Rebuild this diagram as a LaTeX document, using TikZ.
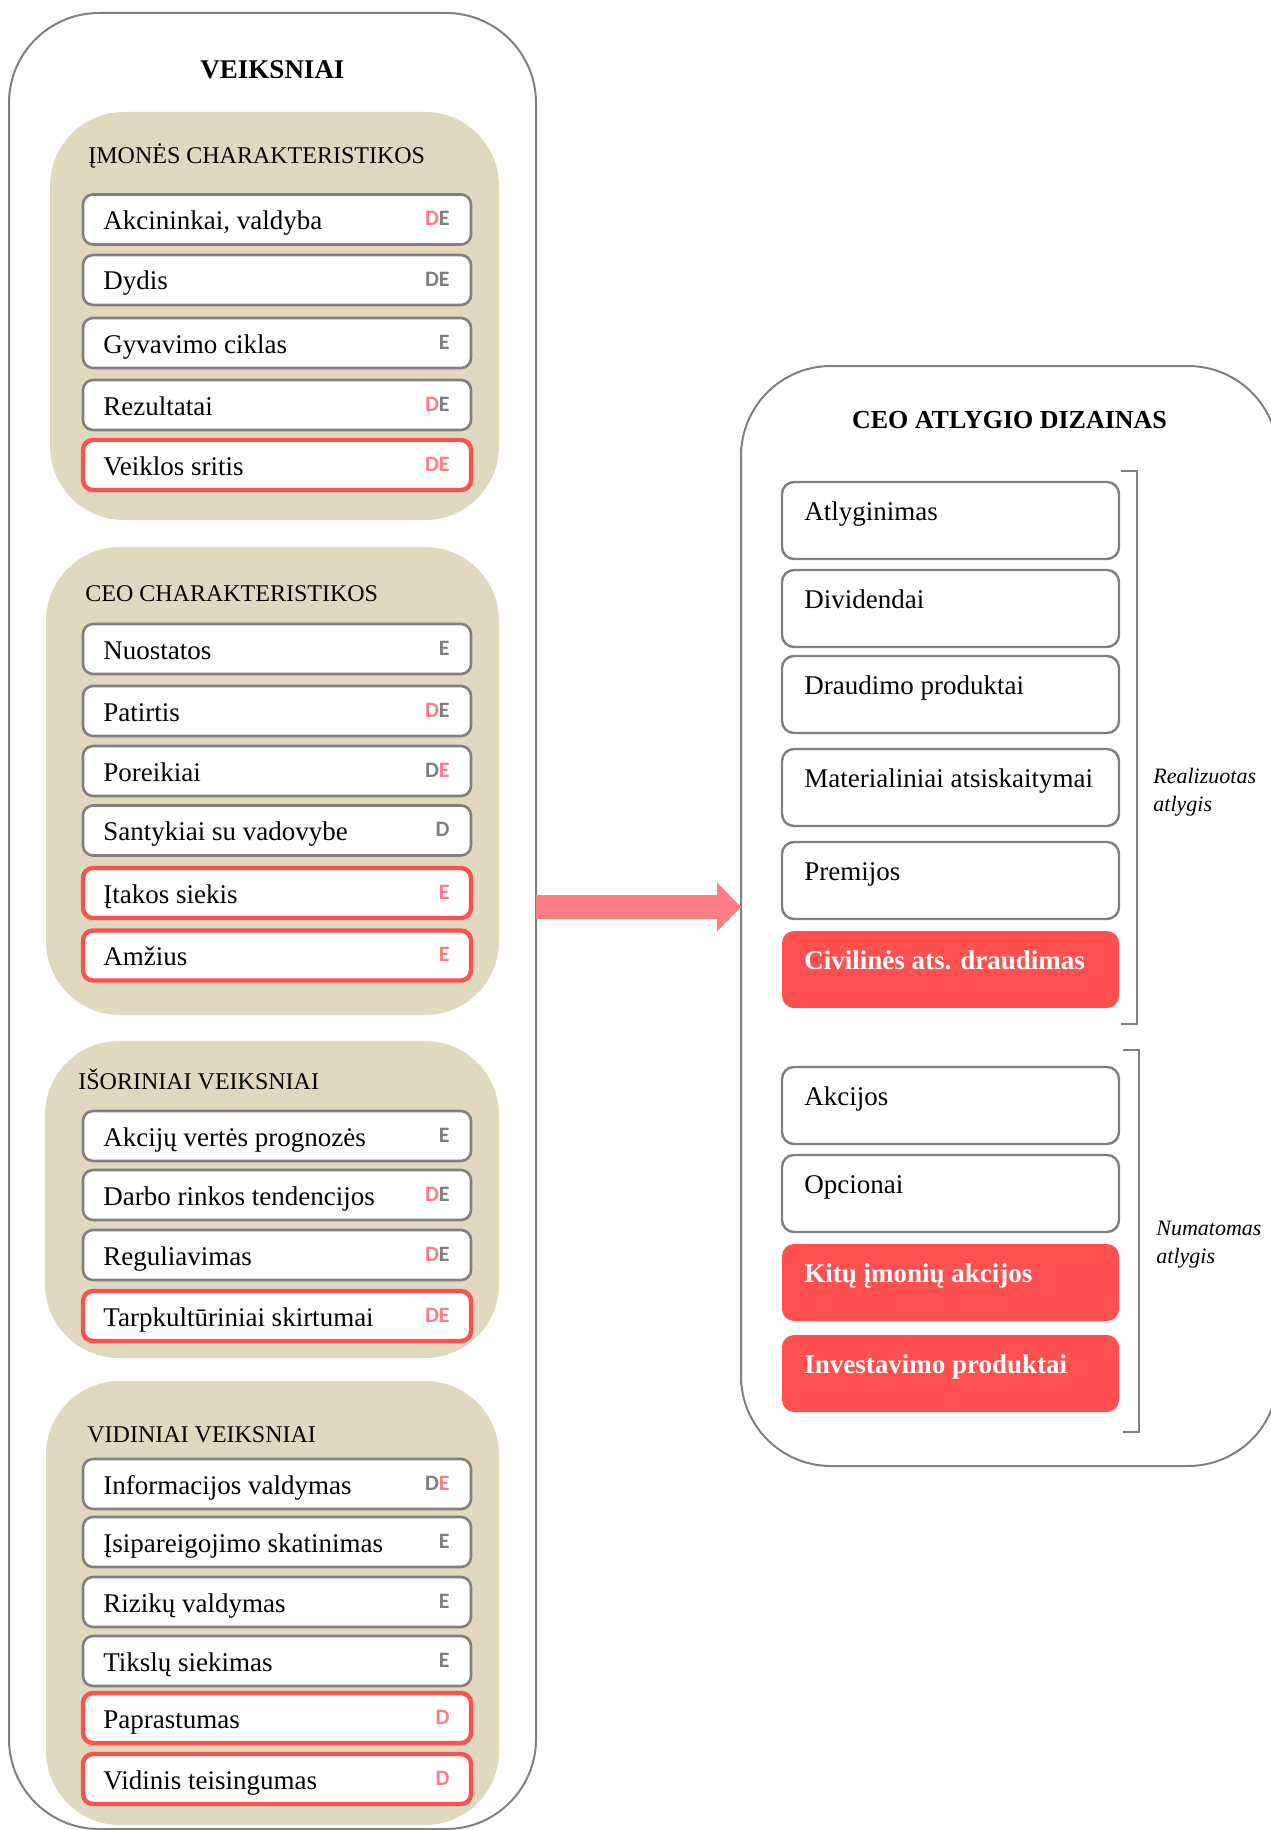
\documentclass[tikz,border=0pt]{standalone}
\usepackage{fontspec}
\setmainfont{Liberation Serif}
\newfontfamily\tagfont{Carlito}
\usetikzlibrary{arrows.meta,positioning}

\definecolor{tan}{HTML}{E0D9BF}
\definecolor{linegray}{HTML}{808080}
\definecolor{boxred}{HTML}{FF5050}
\definecolor{tagpink}{HTML}{FF7C80}
\definecolor{taggray}{HTML}{7F7F7F}

\newcommand{\pk}[1]{\textcolor{tagpink}{#1}}
\newcommand{\gy}[1]{\textcolor{taggray}{#1}}

\tikzset{
  outerbox/.style={draw=linegray, line width=1pt, fill=white, rounded corners=45pt, inner sep=0pt, outer sep=0pt},
  groupbox/.style={fill=tan, rounded corners=37pt, inner sep=0pt, outer sep=0pt},
  itembox/.style={draw=linegray, line width=1.3pt, fill=white, rounded corners=5pt, minimum width=194pt, minimum height=25pt, inner sep=0pt, outer sep=0pt},
  reditem/.style={itembox, draw=boxred, line width=2.2pt},
  itemtext/.style={anchor=base west, inner sep=0pt, font=\fontsize{13.5}{16}\selectfont},
  tagtext/.style={anchor=base east, inner sep=0pt, font=\tagfont\bfseries\fontsize{11}{13}\selectfont},
  grouptitle/.style={anchor=base west, inner sep=0pt, font=\fontsize{12}{14}\selectfont},
  maintitle/.style={anchor=base, inner sep=0pt, font=\bfseries\fontsize{13.5}{16}\selectfont},
  paybox/.style={draw=linegray, line width=1.2pt, fill=white, rounded corners=6pt, minimum width=168.5pt, minimum height=38.5pt, inner sep=0pt, outer sep=0pt, anchor=north},
  redpay/.style={paybox, draw=none, fill=boxred},
  paytext/.style={itemtext},
  redpaytext/.style={itemtext, text=white, font=\bfseries\fontsize{13.5}{16}\selectfont},
  sidelabel/.style={anchor=base west, inner sep=0pt, align=left, font=\itshape\fontsize{11}{14}\selectfont},
  bracket/.style={draw=linegray, line width=0.8pt},
}

\begin{document}
\begin{tikzpicture}[x=0.5pt, y=-0.5pt]
  \fill[white] (0,0) rectangle (1270,1830);
  \useasboundingbox (0,0) rectangle (1270,1830);

  % Outer boxes
  \node[outerbox, minimum width=263.5pt, minimum height=908pt] (veik) at (272.5,921) {};
  \node[outerbox, minimum width=268.5pt, minimum height=550pt] (dizain) at (1009.5,916) {};
  \node[maintitle] (veiktitle) at ([shift={(0,66)}]veik.north) {VEIKSNIAI};
  \node[maintitle, font=\bfseries\fontsize{13}{16}\selectfont] (dizaintitle) at ([shift={(0,62)}]dizain.north) {CEO ATLYGIO DIZAINAS};

  % Groups
  \node[groupbox, minimum width=224.5pt, minimum height=204pt] (g1) at (274.5,316) {};
  \node[groupbox, minimum width=226.5pt, minimum height=234pt] (g2) at (272.5,781) {};
  \node[groupbox, minimum width=227pt, minimum height=158.5pt] (g3) at (272,1199.5) {};
  \node[groupbox, minimum width=226.5pt, minimum height=222pt] (g4) at (272.5,1603) {};
  \node[grouptitle] (g1title) at ([shift={(38,52)}]g1.north west) {ĮMONĖS CHARAKTERISTIKOS};
  \node[grouptitle] (g2title) at ([shift={(39,54)}]g2.north west) {CEO CHARAKTERISTIKOS};
  \node[grouptitle] (g3title) at ([shift={(33,48)}]g3.north west) {IŠORINIAI VEIKSNIAI};
  \node[grouptitle] (g4title) at ([shift={(41,61)}]g4.north west) {VIDINIAI VEIKSNIAI};

  % Factors
  \foreach \i/\y/\sty/\txt/\tg in {
      a1/219.5/itembox/{Akcininkai, valdyba}/{\pk{D}\gy{E}},
      a2/280/itembox/{Dydis}/{\gy{DE}},
      a3/343/itembox/{Gyvavimo ciklas}/{\gy{E}},
      a4/405/itembox/{Rezultatai}/{\pk{D}\gy{E}},
      a5/465/reditem/{Veiklos sritis}/{\pk{DE}},
      b1/649/itembox/{Nuostatos}/{\gy{E}},
      b2/711/itembox/{Patirtis}/{\pk{D}\gy{E}},
      b3/771/itembox/{Poreikiai}/{\gy{D}\pk{E}},
      b4/830.5/itembox/{Santykiai su vadovybe}/{\gy{D}},
      b5/893/reditem/{Įtakos siekis}/{\pk{E}},
      b6/955.5/reditem/{Amžius}/{\pk{E}},
      c1/1136/itembox/{Akcijų vertės prognozės}/{\gy{E}},
      c2/1195/itembox/{Darbo rinkos tendencijos}/{\pk{D}\gy{E}},
      c3/1255/itembox/{Reguliavimas}/{\pk{D}\gy{E}},
      c4/1316/reditem/{Tarpkultūriniai skirtumai}/{\pk{DE}},
      d1/1484/itembox/{Informacijos valdymas}/{\gy{D}\pk{E}},
      d2/1542/itembox/{Įsipareigojimo skatinimas}/{\gy{E}},
      d3/1602/itembox/{Rizikų valdymas}/{\gy{E}},
      d4/1661/itembox/{Tikslų siekimas}/{\gy{E}},
      d5/1718/reditem/{Paprastumas}/{\pk{D}},
      d6/1779/reditem/{Vidinis teisingumas}/{\pk{D}}}{
    \node[\sty] (\i) at (277,\y) {};
    \node[itemtext] (\i-t) at ([shift={(20,10)}]\i.west) {\txt};
    \node[tagtext] (\i-g) at ([shift={(-21,6)}]\i.east) {\tg};
  }

  % Pay components
  \foreach \p/\y/\sty/\tsty/\txt in {
      p1/482/paybox/paytext/{Atlyginimas},
      p2/570/paybox/paytext/{Dividendai},
      p3/656/paybox/paytext/{Draudimo produktai},
      p4/749/paybox/paytext/{Materialiniai atsiskaitymai},
      p5/842/paybox/paytext/{Premijos},
      p6/931/redpay/redpaytext/{Civilinės ats. draudimas},
      q1/1067/paybox/paytext/{Akcijos},
      q2/1155/paybox/paytext/{Opcionai},
      q3/1244/redpay/redpaytext/{Kitų įmonių akcijos},
      q4/1335/redpay/redpaytext/{Investavimo produktai}}{
    \node[\sty] (\p) at (950.5,\y) {};
    \node[\tsty] (\p-t) at ([shift={(22,38)}]\p.north west) {\txt};
  }

  % Brackets
  \draw[bracket] (1121,471) -- (1137,471) -- (1137,1024) -- (1121,1024);
  \draw[bracket] (1123,1050) -- (1139,1050) -- (1139,1432) -- (1123,1432);
  \node[sidelabel] (real) at (1153,811) {Realizuotas\\atlygis};
  \node[sidelabel] (numat) at (1156,1263) {Numatomas\\atlygis};

  % Arrow
  \coordinate (arr) at (0,907);
  \draw[draw=tagpink, line width=12pt, -{Triangle[width=24.5pt,length=12pt,line width=0pt]}] (veik.east |- arr) -- (dizain.west |- arr);
\end{tikzpicture}
\end{document}
